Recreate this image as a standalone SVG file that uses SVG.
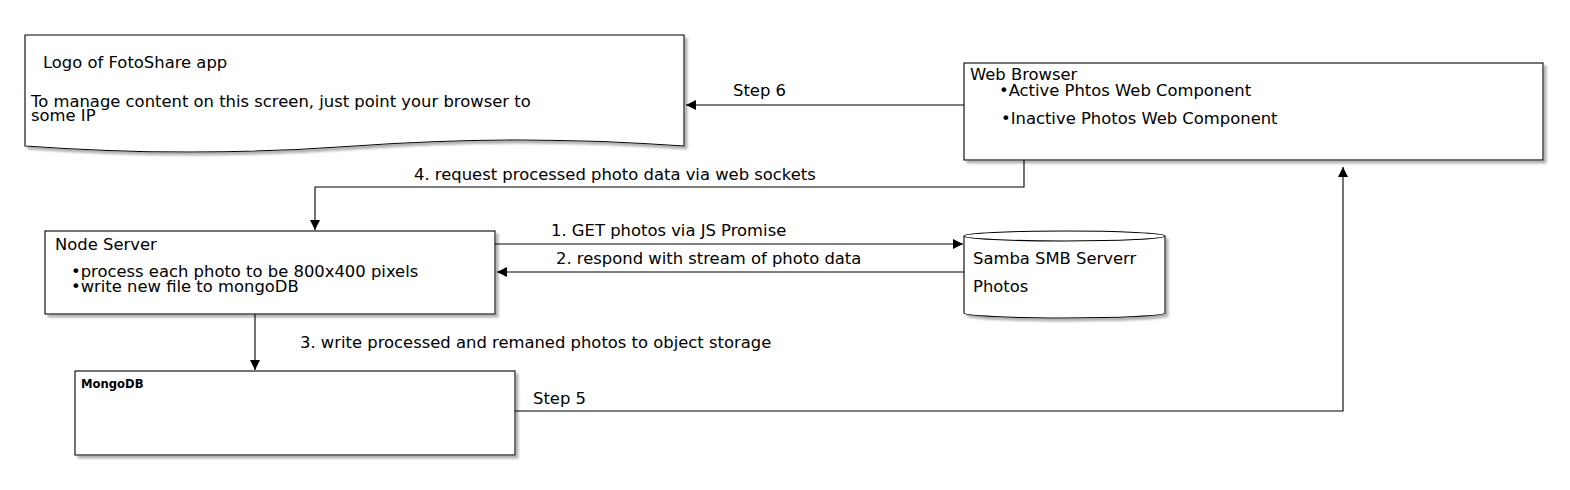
<svg xmlns="http://www.w3.org/2000/svg" width="1570" height="490" viewBox="0 0 1570 490">
  <defs>
    <filter id="shadow" x="-5%" y="-10%" width="115%" height="130%">
      <feGaussianBlur in="SourceAlpha" stdDeviation="1.2"/>
      <feOffset dx="3" dy="3" result="b"/>
      <feFlood flood-color="#808080" flood-opacity="0.6"/>
      <feComposite in2="b" operator="in"/>
      <feMerge><feMergeNode/><feMergeNode in="SourceGraphic"/></feMerge>
    </filter>
    <marker id="arrow" viewBox="0 0 10 10" refX="10" refY="5" markerWidth="10" markerHeight="10" markerUnits="userSpaceOnUse" orient="auto">
      <path d="M0,0 L10,5 L0,10 Z" fill="#000"/>
    </marker>
  </defs>
  <style>
    .shape { fill: #fff; stroke: #000; stroke-width: 1.1; filter: url(#shadow); }
    .edge { fill: none; stroke: #000; stroke-width: 1.1; marker-end: url(#arrow); }
    .lbl { font-family: "DejaVu Sans", sans-serif; font-size: 16.4px; fill: #000; }
    .bold { font-weight: bold; }
  </style>
  <rect width="1570" height="490" fill="#fff"/>

  <g id="logo-document">
    <path class="shape" d="M25,35 H684 V146 Q520,134 355,146 Q190,158 25,146 Z"/>
    <text class="lbl" x="43" y="68">Logo of FotoShare app</text>
    <text class="lbl" x="31" y="107">To manage content on this screen, just point your browser to</text>
    <text class="lbl" x="31" y="121">some IP</text>
  </g>

  <g id="web-browser">
    <rect class="shape" x="964" y="63" width="579" height="97"/>
    <text class="lbl" x="970" y="80">Web Browser</text>
    <text class="lbl" x="999" y="96">•Active Phtos Web Component</text>
    <text class="lbl" x="1001" y="124">•Inactive Photos Web Component</text>
  </g>

  <g id="node-server">
    <rect class="shape" x="45" y="231" width="450" height="83"/>
    <text class="lbl" x="55" y="250">Node Server</text>
    <text class="lbl" x="71" y="277">•process each photo to be 800x400 pixels</text>
    <text class="lbl" x="71" y="292">•write new file to mongoDB</text>
  </g>

  <g id="samba">
    <path class="shape" d="M964,236 A100.5,5 0 0 1 1165,236 V313 A100.5,5 0 0 1 964,313 Z"/>
    <path d="M964,236 A100.5,5 0 0 0 1165,236" fill="none" stroke="#000" stroke-width="1.1"/>
    <text class="lbl" x="973" y="264">Samba SMB Serverr</text>
    <text class="lbl" x="973" y="292">Photos</text>
  </g>

  <g id="mongodb">
    <rect class="shape" x="75" y="371" width="440" height="84"/>
    <text class="lbl bold" x="81" y="388" style="font-size:11.6px">MongoDB</text>
  </g>

  <g id="connectors">
    <path class="edge" d="M964,105 H686"/>
    <path class="edge" d="M1024,160 V187 H315 V230"/>
    <path class="edge" d="M495,244 H963"/>
    <path class="edge" d="M964,272 H497"/>
    <path class="edge" d="M255,314 V370"/>
    <path class="edge" d="M515,411 H1343 V167"/>
  </g>

  <g id="edge-labels">
    <text class="lbl" x="733" y="96">Step 6</text>
    <text class="lbl" x="414" y="180">4. request processed photo data via web sockets</text>
    <text class="lbl" x="551" y="236">1. GET photos via JS Promise</text>
    <text class="lbl" x="556" y="264">2. respond with stream of photo data</text>
    <text class="lbl" x="300" y="348">3. write processed and remaned photos to object storage</text>
    <text class="lbl" x="533" y="404">Step 5</text>
  </g>
</svg>
